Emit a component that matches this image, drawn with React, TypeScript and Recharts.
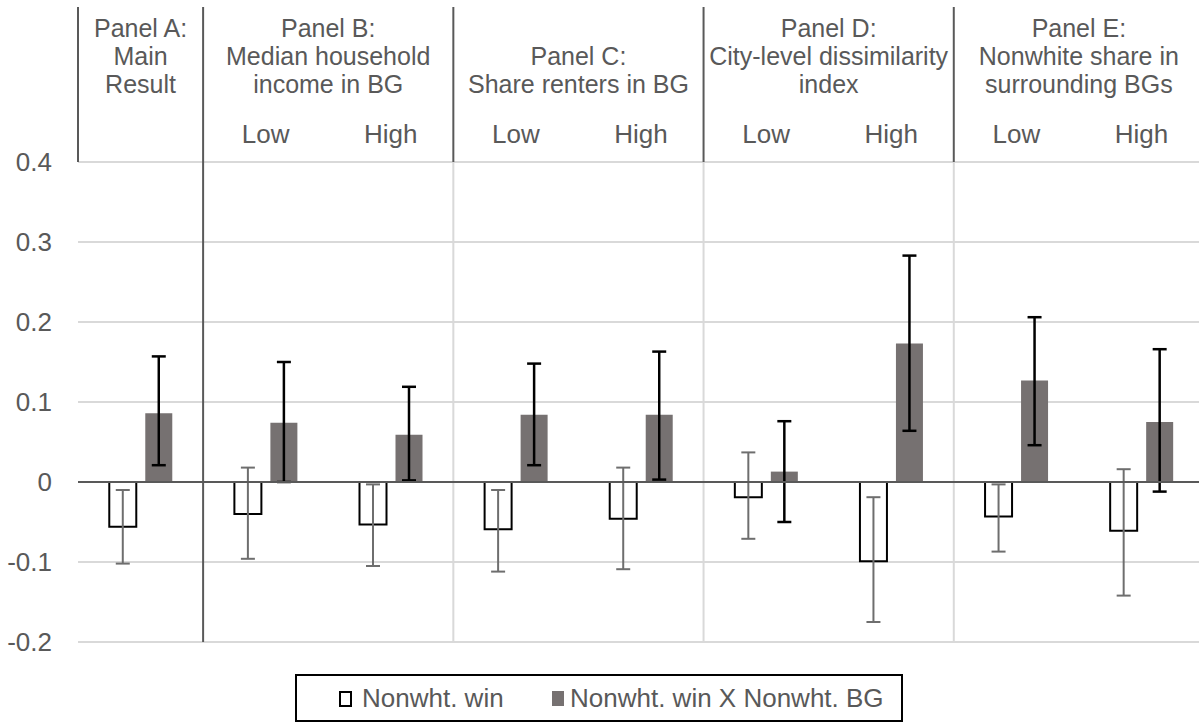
import React from 'react';
import { BarChart, Bar, XAxis, YAxis, CartesianGrid, ReferenceLine, ErrorBar, Legend } from 'recharts';

// point estimates and 95% CI bounds, one entry per column
const categories = ['Main', 'Income low', 'Income high', 'Renters low', 'Renters high', 'Dissim. low', 'Dissim. high', 'Surround low', 'Surround high'];
const nonwhtWin = [-0.056, -0.040, -0.053, -0.059, -0.046, -0.019, -0.099, -0.043, -0.061];
const nonwhtWinLo = [-0.102, -0.096, -0.105, -0.112, -0.109, -0.071, -0.175, -0.087, -0.142];
const nonwhtWinHi = [-0.010, 0.018, -0.003, -0.010, 0.018, 0.037, -0.019, -0.003, 0.016];
const interaction = [0.086, 0.074, 0.059, 0.084, 0.084, 0.013, 0.173, 0.127, 0.075];
const interactionLo = [0.021, 0.000, 0.002, 0.021, 0.003, -0.050, 0.064, 0.046, -0.012];
const interactionHi = [0.157, 0.150, 0.119, 0.148, 0.163, 0.076, 0.283, 0.206, 0.166];

// header: each panel covers a run of columns
const panelTitles = [
  ['Panel A:', 'Main', 'Result'],
  ['Panel B:', 'Median household', 'income in BG'],
  ['Panel C:', 'Share renters in BG'],
  ['Panel D:', 'City-level dissimilarity', 'index'],
  ['Panel E:', 'Nonwhite share in', 'surrounding BGs'],
];
const panelStart = [0, 1, 3, 5, 7];
const panelSpan = [1, 2, 2, 2, 2];
const splitLabels = ['', 'Low', 'High', 'Low', 'High', 'Low', 'High', 'Low', 'High'];
const yTicks = [-0.2, -0.1, 0, 0.1, 0.2, 0.3, 0.4];
const legendLabels = ['Nonwht. win', 'Nonwht. win X Nonwht. BG'];

const FONT = '"Liberation Sans", Arial, sans-serif';
const FS = 26;
const TITLE_FS = 25;
const TEXT = '#595959';
const GRAY = '#767171';

const data = categories.map((name, i) => ({
  name,
  win: nonwhtWin[i],
  winErr: [nonwhtWin[i] - nonwhtWinLo[i], nonwhtWinHi[i] - nonwhtWin[i]],
  inter: interaction[i],
  interErr: [interaction[i] - interactionLo[i], interactionHi[i] - interaction[i]],
}));

// top axis tick: panel border, panel title and Low/High label for one column
function HeaderTick(props: any) {
  const { x, y, index, width, visibleTicksCount } = props;
  const band = width / (visibleTicksCount || categories.length);
  const p = panelStart.indexOf(index);
  return (
    <g>
      {p >= 0 && (
        <line x1={x - band / 2} x2={x - band / 2} y1={y - 155} y2={y} stroke={TEXT} strokeWidth={2} />
      )}
      {p >= 0 && (
        <text textAnchor="middle" fill={TEXT} fontSize={TITLE_FS} fontFamily={FONT}>
          {panelTitles[p].map((t, k, lines) => (
            <tspan key={k} x={x + ((panelSpan[p] - 1) * band) / 2} y={y - 78 - (lines.length - 1 - k) * 28} dy="0.35em">
              {t}
            </tspan>
          ))}
        </text>
      )}
      {splitLabels[index] && (
        <text x={x} y={y - 28} dy="0.35em" textAnchor="middle" fill={TEXT} fontSize={FS} fontFamily={FONT}>
          {splitLabels[index]}
        </text>
      )}
    </g>
  );
}

function LegendBox() {
  const txt = { position: 'absolute' as const, top: 6, fontSize: FS, color: TEXT, fontFamily: FONT, lineHeight: '32px', whiteSpace: 'nowrap' as const };
  return (
    <div style={{ position: 'relative', width: 608, height: 48, boxSizing: 'border-box', border: '2px solid #000', background: '#fff' }}>
      <div style={{ position: 'absolute', left: 42, top: 15, width: 9, height: 12, border: '2px solid #000', background: '#fff' }} />
      <div style={{ ...txt, left: 65 }}>{legendLabels[0]}</div>
      <div style={{ position: 'absolute', left: 255, top: 15, width: 12, height: 15, background: GRAY }} />
      <div style={{ ...txt, left: 273 }}>{legendLabels[1]}</div>
    </div>
  );
}

export default function App() {
  return (
    <div style={{ position: 'absolute', left: 0, top: 0, width: 1199, height: 724, overflow: 'hidden', background: '#fff' }}>
      <BarChart
        width={1204}
        height={724}
        data={data}
        margin={{ top: 0, right: 0, bottom: 82, left: 0 }}
        barCategoryGap="25%"
        barGap={9}
        style={{ fontFamily: FONT }}
      >
        <CartesianGrid xAxisId="cat" vertical={false} stroke="#d9d9d9" strokeWidth={2} />
        <XAxis
          xAxisId="cat"
          dataKey="name"
          orientation="top"
          height={162}
          interval={0}
          axisLine={false}
          tickLine={false}
          tickSize={0}
          tickMargin={0}
          tick={<HeaderTick />}
        />
        <YAxis
          domain={[-0.2, 0.4]}
          ticks={yTicks}
          interval={0}
          width={78}
          axisLine={false}
          tickLine={false}
          tickSize={0}
          tickMargin={26}
          tick={{ fill: TEXT, fontSize: FS, fontFamily: FONT }}
          tickFormatter={(v: number) => String(v)}
        />
        {panelStart.slice(2).map((c) => (
          <ReferenceLine key={c} xAxisId="cat" x={categories[c]} position="start" stroke="#d9d9d9" strokeWidth={2} />
        ))}
        <ReferenceLine xAxisId="cat" x={categories[panelStart[1]]} position="start" stroke={TEXT} strokeWidth={2} />
        <Bar xAxisId="cat" dataKey="win" fill="#fff" stroke="#000" strokeWidth={2} isAnimationActive={false}>
          <ErrorBar dataKey="winErr" width={7} stroke="#6e6e6e" strokeWidth={2} direction="y" />
        </Bar>
        <Bar xAxisId="cat" dataKey="inter" fill={GRAY} isAnimationActive={false}>
          <ErrorBar dataKey="interErr" width={7} stroke="#000" strokeWidth={2.5} direction="y" />
        </Bar>
        <ReferenceLine xAxisId="cat" y={0} stroke={TEXT} strokeWidth={2} />
        <Legend
          layout="horizontal"
          verticalAlign="middle"
          align="center"
          wrapperStyle={{ left: 295, top: 674, width: 608, height: 48 }}
          content={() => <LegendBox />}
        />
      </BarChart>
    </div>
  );
}
